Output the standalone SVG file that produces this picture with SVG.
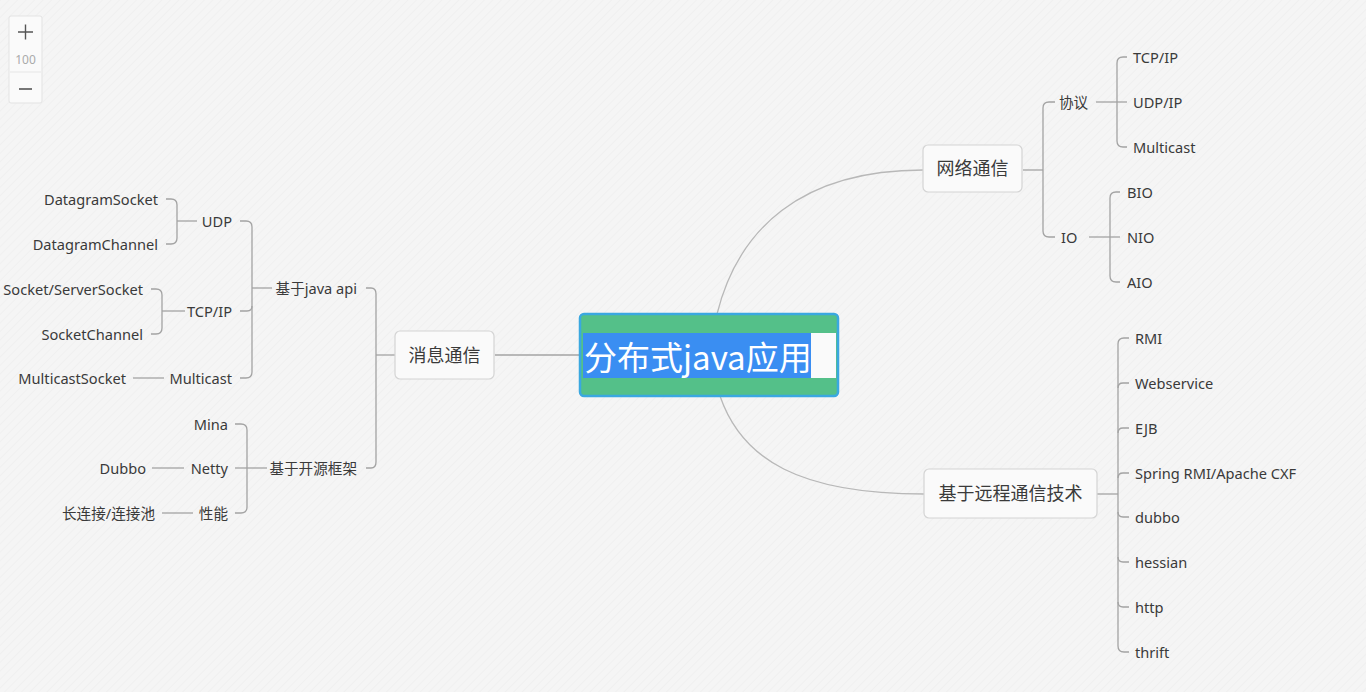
<svg xmlns="http://www.w3.org/2000/svg" width="1366" height="692" viewBox="0 0 1366 692">
<defs>
<pattern id="bgp" width="6" height="6" patternUnits="userSpaceOnUse" patternTransform="rotate(45)">
<rect width="6" height="6" fill="#f5f5f5"/>
<line x1="0" y1="0" x2="0" y2="6" stroke="#f0f0f0" stroke-width="2"/>
</pattern>
</defs>
<style>
.t{font-family:"Noto Sans","Noto Sans CJK SC",sans-serif;font-size:14.6px;fill:#3a3a3a}
.e{text-anchor:end}
.m{font-family:"Noto Sans CJK SC","Noto Sans",sans-serif;font-size:18px;fill:#3a3a3a;text-anchor:middle}
.box{fill:#fafafa;stroke:#d4d4d4;stroke-width:1.2}
.c path{fill:none;stroke:#a3a3a3;stroke-width:1.3}
.c .cv{stroke:#b8b8b8}
</style>
<rect width="1366" height="692" fill="url(#bgp)"/>

<g id="zoom-control">
<rect x="9" y="16" width="33" height="87" rx="2" fill="#fafafa" stroke="#e3e3e3"/>
<line x1="10" y1="72" x2="41" y2="72" stroke="#e6e6e6"/>
<path d="M18,32 H33 M25.5,24.5 V39.5" stroke="#555" stroke-width="1.4" fill="none"/>
<text x="25.5" y="63.5" font-family="Noto Sans,sans-serif" font-size="12" fill="#aaa" text-anchor="middle">100</text>
<path d="M19,89 H32" stroke="#555" stroke-width="1.6" fill="none"/>
</g>

<g id="connectors" class="c">
<path d="M580,355 H495"/>
<path class="cv" d="M717,314 C738,230 800,170 923,170"/>
<path class="cv" d="M720,396 C742,460 800,494 924,494"/>
<path d="M1023,170 H1043"/>
<path d="M1055,102 H1049 Q1043,102 1043,108 V231 Q1043,237 1049,237 H1055"/>
<path d="M1096,102 H1127"/>
<path d="M1127,57 H1123 Q1117,57 1117,63 V141 Q1117,147 1123,147 H1127"/>
<path d="M1089,237 H1120"/>
<path d="M1120,192 H1116 Q1110,192 1110,198 V276 Q1110,282 1116,282 H1120"/>
<path d="M1097,494 H1118"/>
<path d="M1129,338 H1124 Q1118,338 1118,344 V646 Q1118,652 1124,652 H1129"/>
<path d="M1118,388 Q1118,383 1123,383 H1129"/>
<path d="M1118,433 Q1118,428 1123,428 H1129"/>
<path d="M1118,478 Q1118,473 1123,473 H1129"/>
<path d="M1118,512 Q1118,517 1123,517 H1129"/>
<path d="M1118,557 Q1118,562 1123,562 H1129"/>
<path d="M1118,602 Q1118,607 1123,607 H1129"/>
<path d="M395,355 H376"/>
<path d="M366,288 H371 Q376,288 376,294 V462 Q376,468 371,468 H366"/>
<path d="M272,288 H252"/>
<path d="M240,221 H246 Q252,221 252,227 V372 Q252,378 246,378 H240"/>
<path d="M252,306 Q252,311 247,311 H240"/>
<path d="M197,221 H177"/>
<path d="M166,199 H171 Q177,199 177,205 V238 Q177,244 171,244 H166"/>
<path d="M185,311 H162"/>
<path d="M151,289 H156 Q162,289 162,295 V328 Q162,334 156,334 H151"/>
<path d="M133,378 H164"/>
<path d="M267,468 H235"/>
<path d="M235,424 H241 Q247,424 247,430 V507 Q247,513 241,513 H235"/>
<path d="M152,468 H184"/>
<path d="M162,513 H193"/>
</g>

<g id="root">
<rect x="580" y="314" width="258" height="82" rx="4" fill="#54c089" stroke="#3aa8e0" stroke-width="2.5"/>
<rect x="583" y="333" width="253" height="45" fill="#fafafa"/>
<rect x="583" y="333" width="228" height="45" fill="#3a8ef2"/>
<text x="584" y="370" font-family="Noto Sans CJK SC,Noto Sans,sans-serif" font-size="33" fill="#ffffff">分布式java应用</text>
</g>

<g id="n-xiaoxi">
<rect class="box" x="395" y="331" width="99" height="48" rx="5"/>
<text class="m" x="444.5" y="361.5">消息通信</text>
</g>
<g id="n-wangluo">
<rect class="box" x="923" y="145" width="99" height="47" rx="5"/>
<text class="m" x="972.5" y="175">网络通信</text>
</g>
<g id="n-yuancheng">
<rect class="box" x="924" y="469" width="173" height="49" rx="5"/>
<text class="m" x="1010.5" y="500">基于远程通信技术</text>
</g>

<g id="n-xieyi"><text class="t" x="1059" y="108">协议</text></g>
<g id="n-io"><text class="t" x="1061" y="243">IO</text></g>
<g id="n-tcpip-r"><text class="t" x="1133" y="63">TCP/IP</text></g>
<g id="n-udpip"><text class="t" x="1133" y="108">UDP/IP</text></g>
<g id="n-multicast-r"><text class="t" x="1133" y="153">Multicast</text></g>
<g id="n-bio"><text class="t" x="1127" y="198">BIO</text></g>
<g id="n-nio"><text class="t" x="1127" y="243">NIO</text></g>
<g id="n-aio"><text class="t" x="1127" y="288">AIO</text></g>

<g id="n-rmi"><text class="t" x="1135" y="344">RMI</text></g>
<g id="n-ws"><text class="t" x="1135" y="389">Webservice</text></g>
<g id="n-ejb"><text class="t" x="1135" y="434">EJB</text></g>
<g id="n-spring"><text class="t" x="1135" y="479">Spring RMI/Apache CXF</text></g>
<g id="n-dubbo-r"><text class="t" x="1135" y="523">dubbo</text></g>
<g id="n-hessian"><text class="t" x="1135" y="568">hessian</text></g>
<g id="n-http"><text class="t" x="1135" y="613">http</text></g>
<g id="n-thrift"><text class="t" x="1135" y="658">thrift</text></g>

<g id="n-javaapi"><text class="t e" x="357" y="294">基于java api</text></g>
<g id="n-kaiyuan"><text class="t e" x="357" y="474">基于开源框架</text></g>
<g id="n-udp"><text class="t e" x="232" y="227">UDP</text></g>
<g id="n-tcpip-l"><text class="t e" x="232" y="317">TCP/IP</text></g>
<g id="n-multicast-l"><text class="t e" x="232" y="384">Multicast</text></g>
<g id="n-dgsocket"><text class="t e" x="158" y="205">DatagramSocket</text></g>
<g id="n-dgchannel"><text class="t e" x="158" y="250">DatagramChannel</text></g>
<g id="n-socket"><text class="t e" x="143" y="295">Socket/ServerSocket</text></g>
<g id="n-sockchannel"><text class="t e" x="143" y="340">SocketChannel</text></g>
<g id="n-mcsocket"><text class="t e" x="126" y="384">MulticastSocket</text></g>
<g id="n-mina"><text class="t e" x="228" y="430">Mina</text></g>
<g id="n-netty"><text class="t e" x="228" y="474">Netty</text></g>
<g id="n-xingneng"><text class="t e" x="228" y="519">性能</text></g>
<g id="n-dubbo-l"><text class="t e" x="146" y="474">Dubbo</text></g>
<g id="n-changlianjie"><text class="t e" x="155" y="519">长连接/连接池</text></g>
</svg>
